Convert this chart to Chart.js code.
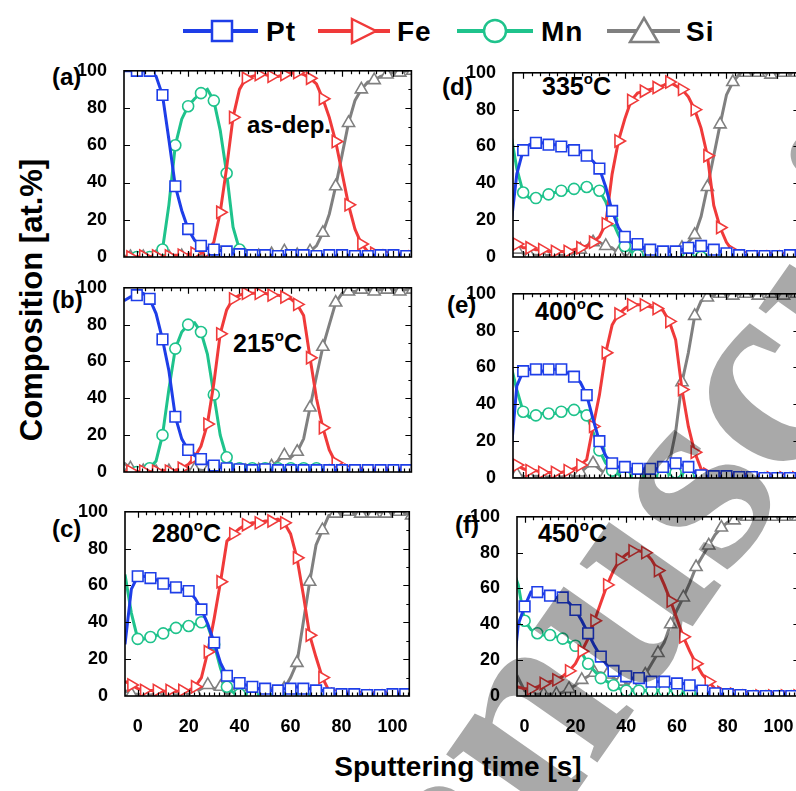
<!DOCTYPE html>
<html lang="en">

<head>
  <meta charset="UTF-8">
  <title>composition depth profiles</title>
  <script src="https://cdn.jsdelivr.net/npm/chart.js"></script>
  <style>
    body { margin: 0; width: 796px; height: 791px; overflow: hidden; background: #fff; position: relative;
      font-family: 'Liberation Sans', Arial, sans-serif; font-weight: bold; color: #000; }
    canvas { position: absolute; }
    .t { position: absolute; white-space: nowrap; }
    .t sup { font-size: 60%; vertical-align: 0.75em; line-height: 0; }
    #wm { position: absolute; left: 0; top: 0; mix-blend-mode: multiply; pointer-events: none; }
  </style>
</head>

<body>
  <svg style="position:absolute;left:0;top:0" width="796" height="60">
    <g stroke-width="4" fill="none">
      <line x1="183" y1="31" x2="258" y2="31" stroke="#1e3ee8" />
      <rect x="212" y="21" width="20" height="20" fill="#fff" stroke="#1e3ee8" stroke-width="2.5" />
      <line x1="318" y1="31" x2="390" y2="31" stroke="#f03a3a" />
      <polygon points="352,19 376,31 352,43" fill="#fff" stroke="#f03a3a" stroke-width="2.5" />
      <line x1="457" y1="31" x2="533" y2="31" stroke="#1fc38c" />
      <circle cx="495" cy="31" r="11" fill="#fff" stroke="#1fc38c" stroke-width="2.5" />
      <line x1="607" y1="31" x2="680" y2="31" stroke="#808080" />
      <polygon points="644,18 658,42 630,42" fill="#fff" stroke="#808080" stroke-width="2.5" />
    </g>
    <g font-family="Liberation Sans, Arial, sans-serif" font-weight="bold" font-size="28" letter-spacing="1">
      <text x="266" y="41">Pt</text>
      <text x="397" y="41">Fe</text>
      <text x="541" y="41">Mn</text>
      <text x="686" y="41">Si</text>
    </g>
  </svg>

  <div class="t" style="left:-168px;top:283px;width:400px;text-align:center;font-size:31px;line-height:34px;transform:rotate(-90deg)">Composition [at.%]</div>
  <div class="t" style="left:258px;top:753px;width:400px;text-align:center;font-size:28px;line-height:28px">Sputtering time [s]</div>

  <div class="t" style="left:52px;top:65px;font-size:24px;line-height:24px">(a)</div>
  <div class="t" style="left:52px;top:288px;font-size:24px;line-height:24px">(b)</div>
  <div class="t" style="left:52px;top:517px;font-size:24px;line-height:24px">(c)</div>
  <div class="t" style="left:442px;top:75px;font-size:24px;line-height:24px">(d)</div>
  <div class="t" style="left:447px;top:293px;font-size:24px;line-height:24px">(e)</div>
  <div class="t" style="left:455px;top:513px;font-size:24px;line-height:24px">(f)</div>

  <div class="t" style="left:247px;top:113px;font-size:24px;line-height:24px">as-dep.</div>
  <div class="t" style="left:233px;top:331px;font-size:25px;line-height:25px">215<sup>o</sup>C</div>
  <div class="t" style="left:152px;top:521px;font-size:25px;line-height:25px">280<sup>o</sup>C</div>
  <div class="t" style="left:542px;top:74px;font-size:25px;line-height:25px">335<sup>o</sup>C</div>
  <div class="t" style="left:535px;top:299px;font-size:25px;line-height:25px">400<sup>o</sup>C</div>
  <div class="t" style="left:538px;top:521px;font-size:25px;line-height:25px">450<sup>o</sup>C</div>

  <script>
    // sputtering time grid [s]
    const times = [-5, -2.5, 0, 2.5, 5, 7.5, 10, 12.5, 15, 17.5,
      20, 22.5, 25, 27.5, 30, 32.5, 35, 37.5, 40, 42.5,
      45, 47.5, 50, 52.5, 55, 57.5, 60, 62.5, 65, 67.5,
      70, 72.5, 75, 77.5, 80, 82.5, 85, 87.5, 90, 92.5,
      95, 97.5, 100, 102.5, 105, 107.5];
    const xTicks = [0, 20, 40, 60, 80, 100];
    const yTicks = [0, 20, 40, 60, 80, 100];

    // (a) as-dep.
    const ptA = [100, 100, 100, 100, 100, 97, 87, 63, 38, 25, 15, 9, 6, 4.5, 4, 3.5, 3, 2, 1.5, 1,
      1, 0.5, 1, 1, 0.5, 1, 1, 0.5, 1, 1, 0.5, 1, 1, 0.5, 1, 1, 0.5, 1, 0.5, 1, 1, 0.5, 1, 1, 0.5, 1];
    const feA = [0, 0, 0, 0.5, 0, 0.5, 0, 0.5, 1, 1, 1.5, 2, 2, 3, 8, 24, 48, 75, 90, 96,
      97, 98, 98, 97, 97, 98, 99, 99, 98, 96, 93, 85, 75, 62, 45, 28, 15, 7, 3, 2, 1, 0.5, 0.5, 0, 0, 0];
    const mnA = [0, 0, 0, 0, 0, 0, 4, 28, 60, 74, 81, 85, 88, 90, 84, 68, 45, 16, 4, 1,
      0.5, 0, 0, 0, 0, 0, 0, 0, 0, 0, 0, 0, 0, 0, 0, 0, 0, 0, 0, 0, 0, 0, 0, 0, 0, 0];
    const siA = [0.5, 0, 0.5, 0, 0, 0, 0.5, 0, 0, 0.5, 0, 0, 0.5, 1, 1.5, 2, 1, 0.5, 0, 0.5,
      0, 0.5, 1, 1.5, 2, 3, 1.5, 1, 1.5, 3, 6, 13, 23, 38, 55, 72, 84, 90, 94, 95, 97, 98, 99, 99, 100, 100];

    // (b) 215 C
    const ptB = [93, 95, 96, 97, 94, 86, 72, 55, 30, 18, 12, 9, 7, 5, 3.5, 2.5, 2, 1.5, 1.5, 1,
      1, 1, 1.5, 1, 1, 1, 1, 1.5, 1, 1, 1, 1, 1, 1, 1, 1, 1, 1, 1, 1, 1, 1, 1, 1, 1, 1];
    const feB = [0, 0.5, 0, 0.5, 0, 0.5, 1, 0.5, 1, 2, 4, 8, 14, 26, 48, 75, 88, 94, 96, 97,
      97, 97, 97, 96, 96, 95, 94, 91, 85, 62, 40, 24, 12, 5, 2, 1, 0.5, 0, 0, 0, 0, 0, 0, 0, 0, 0];
    const mnB = [0, 0, 0, 1, 2, 6, 20, 45, 67, 76, 80, 81, 76, 64, 42, 20, 8, 3, 2, 2,
      2, 2, 2, 2, 2, 2, 2, 2, 2, 2, 2, 1, 1, 0.5, 0.5, 0, 0, 0, 0, 0, 0, 0, 0, 0, 0, 0];
    const siB = [5, 2, 1, 0.5, 0, 0, 0, 0.5, 0, 0.5, 1, 1.5, 1, 0.5, 0, 0, 0, 0, 0.5, 0.5,
      1, 1, 2, 3, 6, 9, 8, 11, 18, 35, 52, 68, 80, 92, 97, 98, 98, 99, 99, 98, 99, 99, 99, 98, 99, 99];

    // (c) 280 C
    const ptC = [28, 58, 65, 65, 64, 63, 61, 60, 59, 58, 57, 53, 47, 39, 29, 18, 11, 8, 7, 6,
      5, 4, 4, 3, 3, 4, 4, 5, 4, 4, 3, 3, 1.5, 1, 1, 0.5, 1, 0.5, 0.5, 1, 0.5, 0.5, 1, 0.5, 1, 1];
    const feC = [8, 6, 4, 3, 3, 3, 2.5, 3, 2.5, 3, 3, 5, 10, 24, 42, 62, 84, 88, 91, 93,
      94, 94, 95, 95, 96, 94, 88, 75, 55, 33, 21, 10, 3, 1, 0.5, 0, 0, 0, 0, 0, 0, 0, 0, 0, 0, 0];
    const mnC = [66, 45, 31, 31, 32, 33, 34, 36, 37, 38, 38, 39, 40, 38, 28, 15, 5, 2, 1, 0.5,
      0.5, 0.5, 0.5, 0.5, 0.5, 0.5, 0.5, 0.5, 0.5, 0.5, 0, 0, 0, 0, 0, 0, 0, 0, 0, 0, 0, 0, 0, 0, 0, 0];
    const siC = [3, 1, 1, 0.5, 0.5, 1, 0.5, 1, 0.5, 1, 1, 2, 4, 6, 4, 5, 1, 0.5, 0, 0,
      0, 0.5, 0, 0.5, 1, 4, 10, 18, 40, 62, 82, 90, 98, 99, 99, 100, 99, 99, 100, 99, 100, 99, 99, 100, 99, 98];

    // (d) 335 C
    const ptD = [15, 45, 58, 61, 62, 62, 61, 61, 60, 60, 58, 57, 55, 52, 48, 38, 25, 16, 11, 8,
      7, 5, 4, 4, 3, 3, 3, 4, 5, 6, 6, 5, 4, 3, 2, 1, 1, 1, 0.5, 1, 0.5, 1, 0.5, 0.5, 1, 0.5];
    const feD = [10, 7, 5, 5, 4, 4, 3, 3, 3, 3, 4, 5, 6, 8, 11, 18, 45, 63, 75, 85,
      89, 90, 91, 92, 93, 95, 93, 91, 87, 80, 70, 55, 28, 16, 8, 3, 1, 0.5, 0, 0, 0, 0, 0, 0, 0, 0];
    const mnD = [68, 48, 35, 32, 32, 33, 34, 35, 36, 36, 37, 37, 38, 37, 36, 30, 20, 12, 6, 3,
      1, 0.5, 0, 0, 0, 0, 0, 0, 0, 0, 0, 0, 0, 0, 0, 0, 0, 0, 0, 0, 0, 0, 0, 0, 0, 0];
    const siD = [12, 4, 2, 1, 1, 0.5, 1, 0.5, 1, 1, 2, 4, 6, 8, 8, 6, 5, 2, 1, 0.5,
      0, 0, 0.5, 0, 0.5, 0.5, 1, 5, 8, 12, 22, 38, 55, 72, 88, 95, 99, 100, 99, 100, 100, 99, 100, 100, 99, 100];

    // (e) 400 C
    const ptE = [10, 50, 58, 59, 59, 58, 59, 59, 59, 57, 55, 52, 45, 32, 20, 12, 8, 6, 6, 5,
      5, 5, 5, 5, 6, 7, 8, 7, 6, 3, 1.5, 1, 1, 0.5, 1, 1, 0.5, 1, 0.5, 0.5, 0, 0, 0, 0, 0, 0];
    const feE = [11, 7, 5, 4, 4, 3, 3, 3, 3, 4, 5, 7, 10, 28, 45, 68, 83, 89, 92, 94,
      94, 94, 93, 92, 91, 85, 75, 48, 28, 14, 5, 2, 1, 0.5, 0, 0, 0, 0, 0, 0, 0, 0, 0, 0, 0, 0];
    const mnE = [62, 48, 36, 33, 34, 35, 35, 35, 36, 37, 37, 36, 34, 25, 15, 8, 4, 2, 1, 1,
      1, 1, 1, 1, 1, 2, 3, 2, 1, 0.5, 0, 0, 0, 0, 0, 0, 0, 0, 0, 0, 0, 0, 0, 0, 0, 0];
    const siE = [6, 2, 1, 0.5, 1, 0.5, 0.5, 1, 0.5, 1, 1, 3, 6, 8, 5, 2, 0.5, 0, 0, 0,
      0.5, 0, 0.5, 0.5, 1, 8, 25, 52, 68, 88, 96, 98, 99, 100, 100, 99, 100, 100, 100, 99, 100, 100, 100, 99, 100, 100];

    // (f) 450 C
    const ptF = [5, 40, 50, 58, 58, 57, 56, 55, 55, 52, 48, 42, 35, 28, 22, 17, 14, 12, 11, 10,
      10, 9, 8, 8, 8, 7, 7, 7, 6, 5, 3, 2, 1.5, 1, 1, 0.5, 0.5, 0.5, 0, 0, 0, 0, 0, 0, 0, 0];
    const feF = [5, 5, 4, 4, 5, 7, 8, 9, 11, 14, 18, 25, 32, 42, 52, 62, 70, 76, 79, 81,
      81, 80, 76, 70, 62, 53, 43, 33, 25, 18, 12, 8, 4, 2, 1, 1, 0.5, 0, 0, 0, 0, 0, 0, 0, 0, 0];
    const mnF = [72, 62, 42, 37, 35, 34, 34, 33, 32, 30, 28, 24, 18, 14, 10, 8, 6, 4, 3, 3,
      3, 3, 3, 3, 3, 3, 3, 2, 2, 1, 0.5, 0, 0, 0, 0, 0, 0, 0, 0, 0, 0, 0, 0, 0, 0, 0];
    const siF = [2, 10, 3, 1, 1, 1, 1, 1, 2, 4, 6, 9, 11, 13, 13, 12, 10, 8, 7, 6,
      8, 12, 18, 24, 30, 40, 48, 55, 63, 72, 78, 84, 90, 94, 97, 98, 99, 100, 100, 100, 100, 100, 100, 100, 100, 100];

    const series = [
      { name: 'Pt', color: '#1e3ee8', style: 'rect', radius: 7.5, rot: 0, parity: 0 },
      { name: 'Fe', color: '#f03a3a', style: 'triangle', radius: 7, rot: 90, parity: 1 },
      { name: 'Mn', color: '#1fc38c', style: 'circle', radius: 5.5, rot: 0, parity: 0 },
      { name: 'Si', color: '#808080', style: 'triangle', radius: 7, rot: 0, parity: 1 }
    ];

    const panels = [
      { left: 124, top: 63, right: 418, bottom: 257, xmin: -5, xmax: 107, labels: false, vals: [ptA, feA, mnA, siA] },
      { left: 124, top: 280, right: 418, bottom: 472, xmin: -5, xmax: 107, labels: false, vals: [ptB, feB, mnB, siB] },
      { left: 125, top: 504, right: 418, bottom: 696, xmin: -5, xmax: 106.6, labels: true, vals: [ptC, feC, mnC, siC] },
      { left: 513, top: 65, right: 806, bottom: 257, xmin: -4, xmax: 108.7, labels: false, vals: [ptD, feD, mnD, siD] },
      { left: 513, top: 286, right: 806, bottom: 478, xmin: -4, xmax: 108.7, labels: false, vals: [ptE, feE, mnE, siE] },
      { left: 517, top: 509, right: 806, bottom: 696, xmin: -3, xmax: 108.2, labels: true, vals: [ptF, feF, mnF, siF] }
    ];

    Chart.defaults.font.family = "'Liberation Sans', Arial, sans-serif";
    Chart.defaults.font.weight = 'bold';
    Chart.defaults.font.size = 18;
    Chart.defaults.color = '#000';

    // box + inward ticks like the original plots
    const frame = {
      id: 'frame',
      afterDraw(chart) {
        const { ctx, chartArea: a, scales } = chart;
        const xs = scales.x, ys = scales.y;
        ctx.save();
        ctx.strokeStyle = '#000';
        ctx.lineWidth = 1.2;
        ctx.beginPath();
        // top axis: 5 minor ticks between majors
        for (let k = 0; k <= 33; k++) {
          const v = k * 20 / 6;
          const px = Math.round(xs.getPixelForValue(v)) + 0.5;
          if (px < a.left || px > a.right) continue;
          const len = k % 6 === 0 ? 6 : 3.5;
          ctx.moveTo(px, a.top); ctx.lineTo(px, a.top + len);
        }
        // bottom axis: minor every 2 s
        for (let v = 0; v <= 108; v += 2) {
          const px = Math.round(xs.getPixelForValue(v)) + 0.5;
          if (px < a.left || px > a.right) continue;
          const len = v % 20 === 0 ? 6 : 3.5;
          ctx.moveTo(px, a.bottom); ctx.lineTo(px, a.bottom - len);
        }
        for (let v = 10; v < 100; v += 10) {
          const py = Math.round(ys.getPixelForValue(v)) + 0.5;
          const len = v % 20 === 0 ? 6 : 3;
          if (v % 20 === 0) { ctx.moveTo(a.left, py); ctx.lineTo(a.left + 6, py); }
          ctx.moveTo(a.right, py); ctx.lineTo(a.right - len, py);
        }
        ctx.stroke();
        ctx.lineWidth = 1.6;
        ctx.strokeRect(a.left, a.top, a.right - a.left, a.bottom - a.top);
        ctx.restore();
      }
    };

    panels.forEach(p => {
      const cv = document.createElement('canvas');
      cv.width = p.right - p.left + 72;
      cv.height = p.bottom - p.top + 48;
      cv.style.left = (p.left - 70) + 'px';
      cv.style.top = (p.top - 12) + 'px';
      document.body.appendChild(cv);

      const datasets = series.map((s, k) => ({
        label: s.name,
        data: times.map((t, i) => ({ x: t, y: p.vals[k][i] })),
        borderColor: s.color,
        borderWidth: 3,
        tension: 0,
        pointStyle: s.style,
        pointRotation: s.rot,
        pointBackgroundColor: '#fff',
        pointBorderColor: s.color,
        pointBorderWidth: 1.6,
        pointRadius: c => (c.index % 2 === s.parity && times[c.index] > p.xmin + 1) ? s.radius : 0
      }));

      new Chart(cv, {
        type: 'line',
        data: { datasets },
        options: {
          responsive: false,
          animation: false,
          events: [],
          layout: { padding: { top: 12, right: 2, left: 0, bottom: 0 } },
          plugins: { legend: { display: false }, tooltip: { enabled: false } },
          scales: {
            x: {
              type: 'linear', min: p.xmin, max: p.xmax,
              grid: { display: false }, border: { display: false },
              ticks: { display: p.labels, padding: 12, maxRotation: 0 },
              afterBuildTicks: s => { s.ticks = xTicks.map(v => ({ value: v })); },
              afterFit: s => { s.height = 36; }
            },
            y: {
              min: 0, max: 100,
              grid: { display: false }, border: { display: false },
              ticks: { padding: 9 },
              afterBuildTicks: s => { s.ticks = yTicks.map(v => ({ value: v })); },
              afterFit: s => { s.width = 70; }
            }
          }
        },
        plugins: [frame]
      });
    });
  </script>

  <svg id="wm" width="796" height="791">
    <text x="333" y="1140" transform="rotate(-55 333 1140)" font-family="Liberation Serif, Times New Roman, serif"
      font-size="280" fill="#a9a9a9">manuscript</text>
  </svg>
</body>

</html>
